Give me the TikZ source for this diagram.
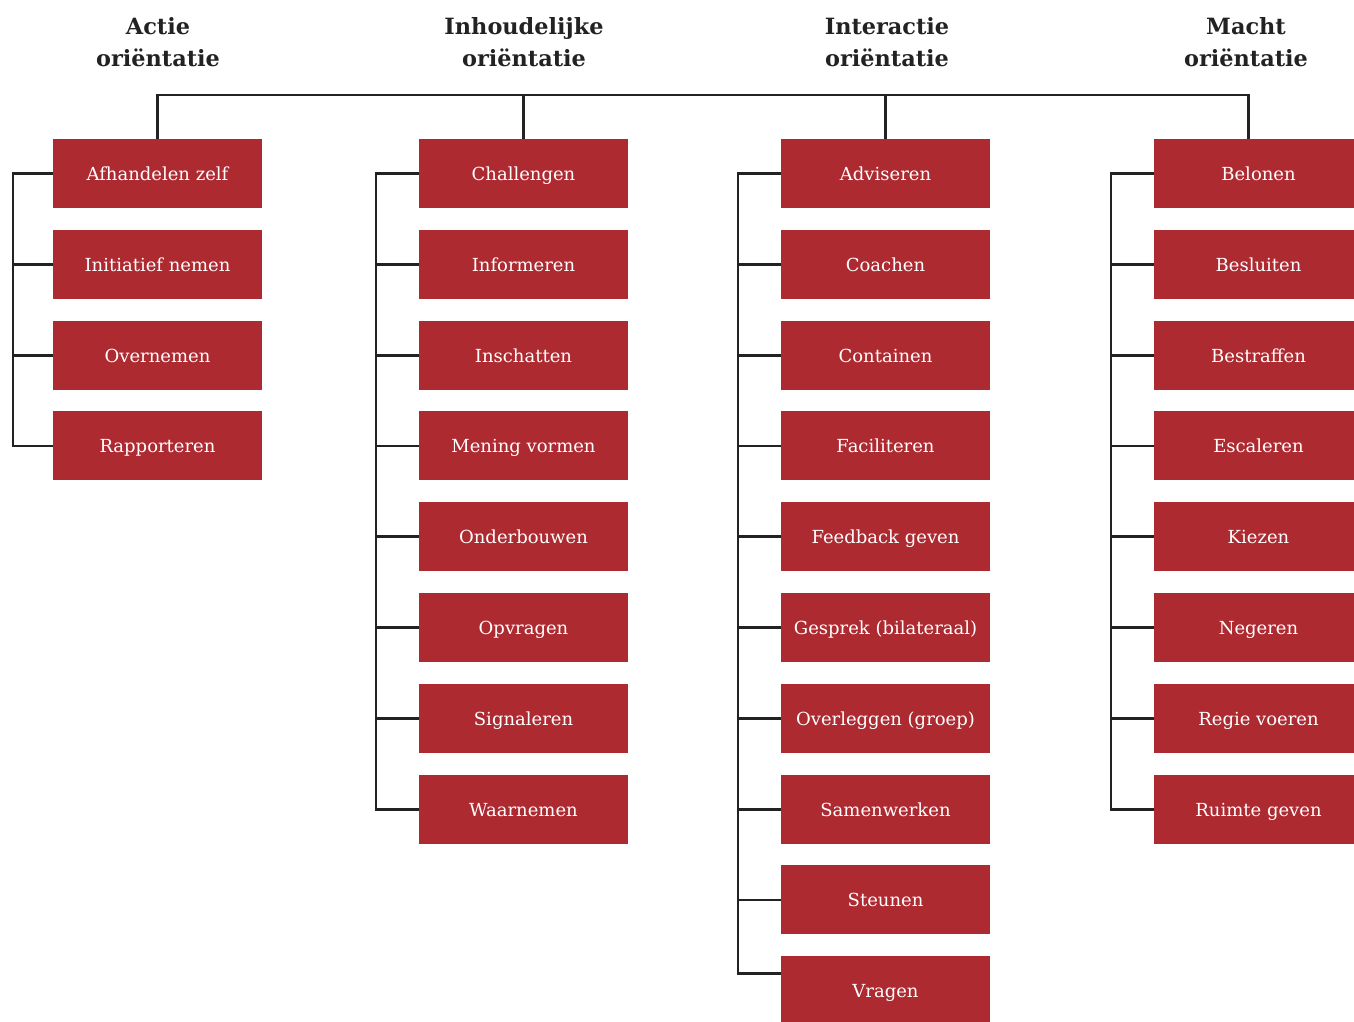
\documentclass[tikz,border=0pt]{standalone}
\usepackage{fontspec}
\setmainfont{DejaVu Serif}
\definecolor{boxred}{HTML}{AE2A31}
\definecolor{linegray}{HTML}{222222}
\tikzset{
  item/.style={fill=boxred, text=white, minimum width=209pt, minimum height=69pt,
    inner sep=0pt, text height=17pt, text depth=3pt, font=\fontsize{18}{20}\selectfont},
  head/.style={align=center, text=linegray, font=\bfseries\fontsize{22.4}{32}\selectfont},
  tie/.style={draw=linegray, line width=2.8pt}
}
\begin{document}
\begin{tikzpicture}[x=1pt,y=-1pt]
\useasboundingbox (0,0) rectangle (1354,1021);
% column heads
\node[head] (hA) at (158,42) {Actie\\oriëntatie};
\node[head] (hB) at (524,42) {Inhoudelijke\\oriëntatie};
\node[head] (hC) at (887,42) {Interactie\\oriëntatie};
\node[head] (hD) at (1246,42) {Macht\\oriëntatie};
% boxes
\foreach \t [count=\i] in {Afhandelen zelf, Initiatief nemen, Overnemen, Rapporteren}
  \node[item] (a\i) at (157.5,{173.5+90.8*(\i-1)}) {\t};
\foreach \t [count=\i] in {Challengen, Informeren, Inschatten, Mening vormen,
    Onderbouwen, Opvragen, Signaleren, Waarnemen}
  \node[item] (b\i) at (523.5,{173.5+90.8*(\i-1)}) {\t};
\foreach \t [count=\i] in {Adviseren, Coachen, Containen, Faciliteren, Feedback geven,
    Gesprek (bilateraal), Overleggen (groep), Samenwerken, Steunen, Vragen}
  \node[item] (c\i) at (885.5,{173.5+90.8*(\i-1)}) {\t};
\foreach \t [count=\i] in {Belonen, Besluiten, Bestraffen, Escaleren, Kiezen, Negeren,
    Regie voeren, Ruimte geven}
  \node[item] (d\i) at (1258.5,{173.5+90.8*(\i-1)}) {\t};
% top bus
\coordinate (bus) at (0,95);
\draw[tie] (a1.north) |- ([xshift=-10pt]d1.north |- bus) -- ([xshift=-10pt]d1.north);
\draw[tie] (b1.north) -- (b1.north |- bus);
\draw[tie] (c1.north) -- (c1.north |- bus);
% spines
\coordinate (sa) at (13,0);
\coordinate (sb) at (376,0);
\coordinate (sc) at (738,0);
\coordinate (sd) at (1111,0);
\coordinate (cend) at ([yshift=17pt]c10.west);
\draw[tie] (a1.west) -- (sa |- a1.west) -- (sa |- a4.west) -- (a4.west);
\foreach \i in {2,3}
  \draw[tie] (a\i.west) -- (sa |- a\i.west);
\draw[tie] (b1.west) -- (sb |- b1.west) -- (sb |- b8.west) -- (b8.west);
\foreach \i in {2,...,7}
  \draw[tie] (b\i.west) -- (sb |- b\i.west);
\draw[tie] (c1.west) -- (sc |- c1.west) -- (sc |- cend) -- (cend);
\foreach \i in {2,...,9}
  \draw[tie] (c\i.west) -- (sc |- c\i.west);
\draw[tie] (d1.west) -- (sd |- d1.west) -- (sd |- d8.west) -- (d8.west);
\foreach \i in {2,...,7}
  \draw[tie] (d\i.west) -- (sd |- d\i.west);
\end{tikzpicture}
\end{document}
